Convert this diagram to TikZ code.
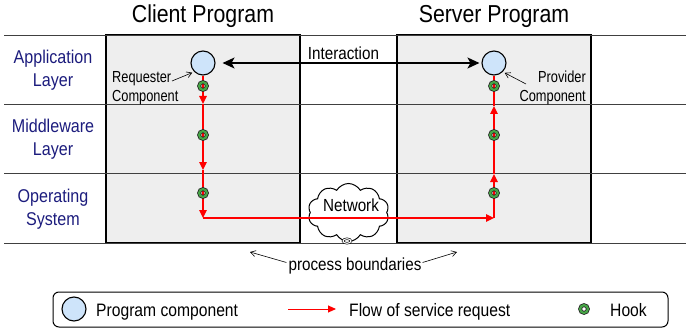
\documentclass[tikz,border=0pt]{standalone}
\usepackage{fontspec}
\setmainfont{Liberation Sans}[FakeStretch=0.87]
\newfontfamily\narrowsans{Liberation Sans}[FakeStretch=0.8]
\usetikzlibrary{arrows.meta,shapes.symbols,shapes.geometric}

\definecolor{boxgray}{RGB}{238,238,238}
\definecolor{compblue}{RGB}{206,228,250}
\definecolor{layerblue}{RGB}{28,28,125}
\definecolor{hookgreen}{RGB}{70,165,70}
\definecolor{flowred}{RGB}{255,0,0}

\tikzset{
  progbox/.style={draw=black, fill=boxgray, line width=1.8pt,
    minimum width=194pt, minimum height=208pt, inner sep=0pt},
  layerline/.style={draw=black!75, line width=0.9pt},
  comp/.style={circle, draw=black, fill=compblue, line width=1.1pt,
    minimum size=24pt, inner sep=0pt},
  hook/.style={circle, draw=black!85, double=hookgreen, double distance=2.2pt,
    line width=0.8pt, minimum size=7.8pt, inner sep=0pt},
  flow/.style={draw=flowred, line width=1.4pt,
    -{Triangle[length=8pt,width=7.5pt]}},
  flowplain/.style={draw=flowred, line width=1.4pt},
  interact/.style={draw=black, line width=1.3pt,
    {Stealth[length=12pt,width=11pt,inset=3pt]}-{Stealth[length=12pt,width=11pt,inset=3pt]}},
  pointer/.style={draw=black, line width=0.6pt, -{Straight Barb[length=5pt,width=6pt]}},
  titletext/.style={font=\fontsize{24.5}{28}\selectfont, anchor=base},
  layertext/.style={font=\fontsize{18.5}{23}\selectfont, text=layerblue, align=center},
  midtext/.style={font=\fontsize{17.5}{21}\selectfont, anchor=base, inner sep=0pt},
  smalltext/.style={font=\narrowsans\fontsize{16}{19}\selectfont, inner sep=0pt},
  legendtext/.style={font=\fontsize{18}{21}\selectfont, anchor=base west, inner sep=0pt},
  netcloud/.style={cloud, cloud puffs=10, cloud puff arc=120, aspect=1.4,
    draw=black, fill=white, line width=1pt, minimum width=81pt, minimum height=58pt},
  legendbox/.style={draw=black, line width=1pt, rounded corners=6pt,
    minimum width=615pt, minimum height=35pt, inner sep=0pt},
}

\begin{document}
\begin{tikzpicture}[x=1pt, y=-1pt]
  \useasboundingbox (0,0) rectangle (686,329);

  % program boxes
  \node[progbox] (client) at (203,139) {};
  \node[progbox] (server) at (494,139) {};

  % layer separators run across the whole width
  \foreach \yy in {35,104,173,243}
    \draw[layerline] (4,\yy) -- (686,\yy);

  % titles
  \node[titletext] (ctitle) at (203,23) {Client Program};
  \node[titletext] (stitle) at (494,23) {Server Program};

  % layer names
  \node[layertext] (lapp) at (53,70) {Application\\Layer};
  \node[layertext] (lmid) at (53,139) {Middleware\\Layer};
  \node[layertext] (los)  at (53,209) {Operating\\System};

  % network cloud
  \node[netcloud] (net) at (348.5,212.5) {};
  \node[ellipse, draw=black, double=white, double distance=1.1pt, line width=0.6pt,
        fill=white, minimum width=8pt, minimum height=4.5pt, inner sep=0pt] (nethook) at (347,241) {};
  \node[midtext] (netlbl) at (351,211.5) {Network};

  % components
  \node[comp] (c1) at (203,63) {};
  \node[comp] (s1) at (494,63) {};

  % interaction between components
  \draw[interact, shorten <=7pt, shorten >=2pt] (c1) -- (s1);
  \node[midtext] (inter) at (343.5,60) {Interaction};

  % flow of the service request
  \coordinate (ct1) at (203,104);
  \coordinate (ct2) at (203,170);
  \coordinate (cc)  at (203,218);
  \coordinate (sc)  at (494,218);
  \coordinate (st2) at (494,174);
  \coordinate (st1) at (494,106);
  \draw[flow] (c1.south) -- (ct1);
  \draw[flow] (ct1) -- (ct2);
  \draw[flow] (ct2) -- (cc);
  \draw[flow] (cc) -- (sc);
  \draw[flow] (sc) -- (st2);
  \draw[flow] (st2) -- (st1);
  \draw[flowplain] (st1) -- (s1.south);

  % hooks
  \node[hook] (ch1) at (203,86) {};
  \node[hook] (ch2) at (203,135) {};
  \node[hook] (ch3) at (203,193) {};
  \node[hook] (sh1) at (494,86) {};
  \node[hook] (sh2) at (494,135) {};
  \node[hook] (sh3) at (494,193) {};

  % component captions
  \node[smalltext, anchor=north west, align=left] (req) at (112,71) {Requester\\Component};
  \coordinate (reqfrom) at (172,81);
  \draw[pointer, shorten >=2pt] (reqfrom) -- (c1.south west);
  \node[smalltext, anchor=north east, align=right] (prov) at (586,71) {Provider\\Component};
  \coordinate (provfrom) at (526,84);
  \draw[pointer, shorten >=2pt] (provfrom) -- (s1.south east);

  % process boundaries
  \node[midtext] (pb) at (355,270) {process boundaries};
  \coordinate (pbl) at (250,252);
  \coordinate (pbr) at (457,252);
  \draw[pointer] (pb.west) ++(-2,-3) coordinate (pbls) -- (pbl);
  \draw[pointer] (pb.east) ++(1,-3) coordinate (pbrs) -- (pbr);

  % legend
  \node[legendbox] (legend) at (360.5,309.5) {};
  \node[comp] (lcomp) at (74,309) {};
  \node[legendtext] (lt1) at (96,316) {Program component};
  \coordinate (lfa) at (288,309);
  \coordinate (lfb) at (336,309);
  \draw[draw=flowred, line width=1pt, -{Triangle[length=8pt,width=7pt]}] (lfa) -- (lfb);
  \node[legendtext] (lt2) at (349,316) {Flow of service request};
  \node[hook] (lhook) at (584,309) {};
  \node[legendtext] (lt3) at (610,316) {Hook};
\end{tikzpicture}
\end{document}
